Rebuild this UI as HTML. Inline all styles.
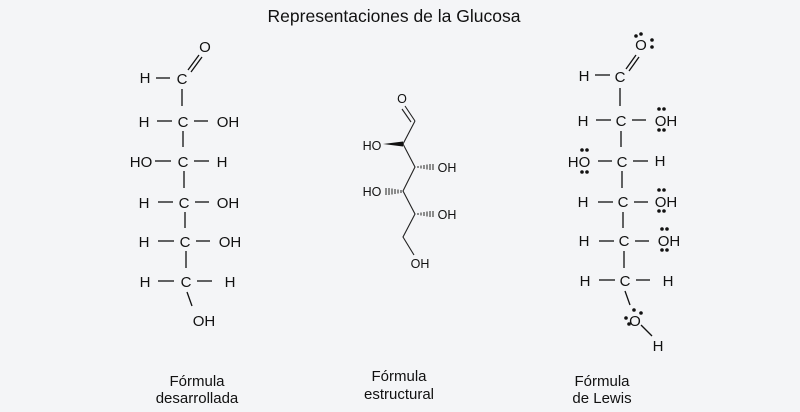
<!DOCTYPE html>
<html><head><meta charset="utf-8"><style>
html,body{margin:0;padding:0;background:#f4f5f7;}
svg{display:block}
text{font-family:"Liberation Sans",Arial,sans-serif;fill:#111;}
</style></head><body>
<svg width="800" height="412" viewBox="0 0 800 412">
<rect width="800" height="412" fill="#f4f5f7"/>
<text x="394" y="22" font-size="17.5" text-anchor="middle">Representaciones de la Glucosa</text>

<!-- Left: desarrollada -->
<g font-size="15" text-anchor="middle" stroke="none">
<text x="205" y="52">O</text>
<text x="145" y="83">H</text><text x="182" y="84">C</text>
<text x="144" y="127">H</text><text x="183" y="127">C</text><text x="228" y="127">OH</text>
<text x="141" y="167">HO</text><text x="183" y="167">C</text><text x="222" y="167">H</text>
<text x="144" y="208">H</text><text x="184" y="208">C</text><text x="228" y="208">OH</text>
<text x="144" y="247">H</text><text x="185" y="247">C</text><text x="230" y="247">OH</text>
<text x="145" y="287">H</text><text x="186" y="287">C</text><text x="230" y="287">H</text>
<text x="204" y="326">OH</text>
</g>
<g stroke="#111" stroke-width="1.3">
<line x1="156" y1="78" x2="170" y2="78"/>
<line x1="188" y1="70" x2="199" y2="55"/><line x1="191" y1="72" x2="202" y2="57"/>
<line x1="182" y1="89" x2="182" y2="106"/>
<line x1="157" y1="121" x2="172" y2="121"/><line x1="194" y1="121" x2="208" y2="121"/>
<line x1="183" y1="131" x2="183" y2="147"/>
<line x1="155" y1="161" x2="171" y2="161"/><line x1="194" y1="161" x2="209" y2="161"/>
<line x1="184" y1="171" x2="184" y2="188"/>
<line x1="158" y1="202" x2="173" y2="202"/><line x1="195" y1="202" x2="209" y2="202"/>
<line x1="185" y1="212" x2="185" y2="228"/>
<line x1="158" y1="241" x2="174" y2="241"/><line x1="196" y1="241" x2="210" y2="241"/>
<line x1="186" y1="251" x2="186" y2="268"/>
<line x1="158" y1="281" x2="174" y2="281"/><line x1="197" y1="281" x2="212" y2="281"/>
<line x1="187" y1="292" x2="192" y2="306"/>
</g>

<!-- Middle: estructural -->
<g font-size="12.5" text-anchor="middle">
<text x="402" y="103">O</text>
<text x="372" y="150">HO</text>
<text x="447" y="172">OH</text>
<text x="372" y="196">HO</text>
<text x="447" y="219">OH</text>
<text x="420" y="268">OH</text>
</g>
<g stroke="#222" stroke-width="1.1" fill="none">
<line x1="405" y1="106" x2="415" y2="121"/><line x1="402" y1="109" x2="411" y2="122"/>
<polyline points="415,121 403,144 415,167 403,191 415,214 403,237 414,255"/>
</g>
<polygon points="383,144 403,141.5 403,146.5" fill="#111"/>
<g stroke="#222" stroke-width="1">
<line x1="418" y1="166" x2="418" y2="168"/><line x1="421" y1="165.5" x2="421" y2="168.5"/><line x1="424" y1="165" x2="424" y2="169"/><line x1="427" y1="164.5" x2="427" y2="169.5"/><line x1="430" y1="164" x2="430" y2="170"/><line x1="433" y1="164" x2="433" y2="170"/>
<line x1="401" y1="190" x2="401" y2="193"/><line x1="398" y1="189.5" x2="398" y2="193.5"/><line x1="395" y1="189" x2="395" y2="194"/><line x1="392" y1="188.5" x2="392" y2="194.5"/><line x1="389" y1="188" x2="389" y2="195"/><line x1="386" y1="188" x2="386" y2="195"/>
<line x1="418" y1="213" x2="418" y2="215"/><line x1="421" y1="212.5" x2="421" y2="215.5"/><line x1="424" y1="212" x2="424" y2="216"/><line x1="427" y1="211.5" x2="427" y2="216.5"/><line x1="430" y1="211" x2="430" y2="217"/><line x1="433" y1="211" x2="433" y2="217"/>
</g>

<!-- Right: Lewis -->
<g font-size="15" text-anchor="middle">
<text x="641" y="50">O</text>
<text x="584" y="81">H</text><text x="620" y="82">C</text>
<text x="583" y="126">H</text><text x="621" y="126">C</text><text x="666" y="126">OH</text>
<text x="579" y="167">HO</text><text x="622" y="167">C</text><text x="660" y="166">H</text>
<text x="583" y="207">H</text><text x="623" y="207">C</text><text x="666" y="207">OH</text>
<text x="584" y="246">H</text><text x="624" y="246">C</text><text x="669" y="246">OH</text>
<text x="585" y="286">H</text><text x="625" y="286">C</text><text x="668" y="286">H</text>
<text x="635" y="326">O</text>
<text x="658" y="351">H</text>
</g>
<g fill="#111">
<circle cx="636" cy="36" r="1.8"/><circle cx="641" cy="34" r="1.8"/><circle cx="652" cy="40" r="1.8"/><circle cx="652" cy="47" r="1.8"/>
<circle cx="659" cy="109" r="1.8"/><circle cx="664" cy="109" r="1.8"/><circle cx="659" cy="130" r="1.8"/><circle cx="664" cy="130" r="1.8"/>
<circle cx="582" cy="150" r="1.8"/><circle cx="587" cy="150" r="1.8"/><circle cx="582" cy="172" r="1.8"/><circle cx="587" cy="172" r="1.8"/>
<circle cx="659" cy="190" r="1.8"/><circle cx="664" cy="190" r="1.8"/><circle cx="659" cy="211" r="1.8"/><circle cx="664" cy="211" r="1.8"/>
<circle cx="662" cy="229" r="1.8"/><circle cx="667" cy="229" r="1.8"/><circle cx="662" cy="250" r="1.8"/><circle cx="667" cy="250" r="1.8"/>
<circle cx="634" cy="310" r="1.8"/><circle cx="641" cy="313" r="1.8"/><circle cx="626" cy="318" r="1.8"/><circle cx="629" cy="324" r="1.8"/>
</g>
<g stroke="#111" stroke-width="1.3">
<line x1="595" y1="75" x2="610" y2="75"/>
<line x1="626" y1="69" x2="636" y2="55"/><line x1="629" y1="71" x2="639" y2="57"/>
<line x1="620" y1="88" x2="620" y2="106"/>
<line x1="596" y1="120" x2="611" y2="120"/><line x1="632" y1="120" x2="646" y2="120"/>
<line x1="621" y1="131" x2="621" y2="147"/>
<line x1="598" y1="161" x2="612" y2="161"/><line x1="633" y1="161" x2="648" y2="161"/>
<line x1="622" y1="171" x2="622" y2="188"/>
<line x1="598" y1="202" x2="613" y2="202"/><line x1="634" y1="202" x2="648" y2="202"/>
<line x1="623" y1="212" x2="623" y2="228"/>
<line x1="599" y1="241" x2="614" y2="241"/><line x1="635" y1="241" x2="649" y2="241"/>
<line x1="624" y1="251" x2="624" y2="268"/>
<line x1="599" y1="280" x2="615" y2="280"/><line x1="636" y1="280" x2="650" y2="280"/>
<line x1="625" y1="291" x2="630" y2="305"/>
<line x1="641" y1="325" x2="652" y2="336"/>
</g>

<g font-size="15" text-anchor="middle">
<text x="197" y="386">Fórmula</text><text x="197" y="403">desarrollada</text>
<text x="399" y="381">Fórmula</text><text x="399" y="399">estructural</text>
<text x="602" y="386">Fórmula</text><text x="602" y="403">de Lewis</text>
</g>
</svg>
</body></html>
